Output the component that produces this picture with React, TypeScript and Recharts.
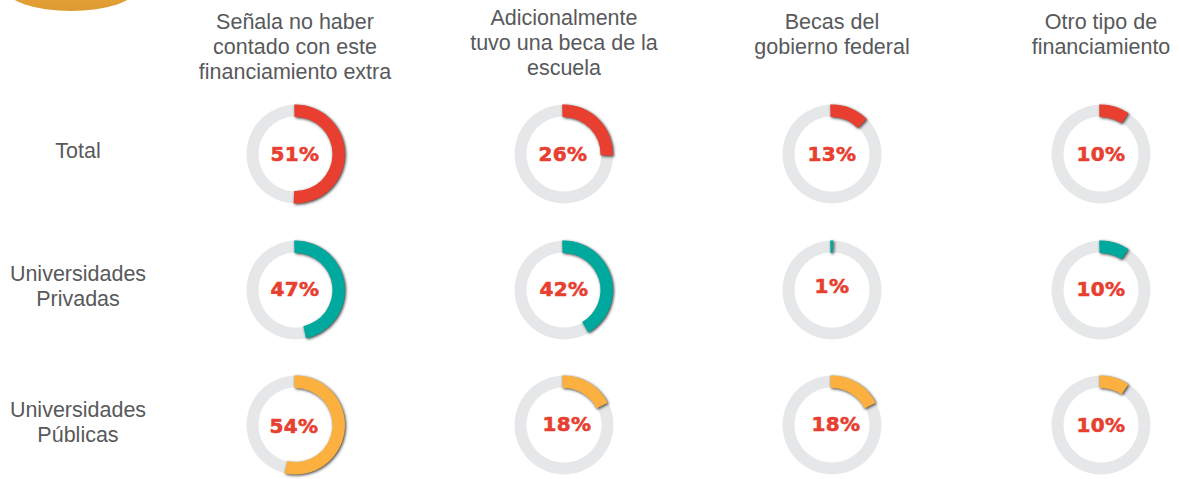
import React from "react";
import { PieChart, Pie, Cell, Text } from "recharts";

// percent values per row, one per column
const columns = [
  ["Señala no haber", "contado con este", "financiamiento extra"],
  ["Adicionalmente", "tuvo una beca de la", "escuela"],
  ["Becas del", "gobierno federal"],
  ["Otro tipo de", "financiamiento"],
];
const rowLabels = [["Total"], ["Universidades", "Privadas"], ["Universidades", "Públicas"]];
const totalValues = [51, 26, 13, 10];
const privateValues = [47, 42, 1, 10];
const publicValues = [54, 18, 18, 10];
const rowValues = [totalValues, privateValues, publicValues];
const rowColors = ["#e83f30", "#00a99d", "#fbb040"];

// layout
const colX = [296, 564, 832, 1101];
const rowY = [154, 290, 425];
const headerTop = [21.5, 17.5, 21.5, 21.5];
const rowLabelY = [150.5, 273.5, 409.5];
const labelNudge = [
  [[-1, 0], [-1, 0], [0, 0], [0, 0]],
  [[-1, -1], [0, -1], [0, -4], [0, -1]],
  [[-2, 1], [3, -1], [4, -1], [0, 0]],
];
const LINE = 25;
const START = 91.5;

const ringData = (v: number) => [
  { name: "valor", value: v },
  { name: "resto", value: 100 - v },
];

export default function App() {
  return (
    <div style={{ position: "fixed", left: 0, top: 0, width: 1179, height: 479, background: "#fff" }}>
      <PieChart width={1179} height={479} margin={{ top: 0, right: 0, bottom: 0, left: 0 }}>
        <defs>
          <linearGradient id="gold" x1="0" y1="0" x2="0" y2="1">
            <stop offset="0.4" stopColor="#f7c948" />
            <stop offset="0.6" stopColor="#e5a336" />
            <stop offset="1" stopColor="#de9a33" />
          </linearGradient>
        </defs>
        <ellipse cx={71} cy={-12} rx={66} ry={23} fill="url(#gold)" />

        {columns.map((lines, c) =>
          lines.map((line, i) => (
            <Text
              key={`h-${c}-${i}`}
              x={colX[c] - (c === 0 ? 1 : 0)}
              y={headerTop[c] + i * LINE}
              textAnchor="middle"
              verticalAnchor="middle"
              fontFamily="Liberation Sans"
              fontSize={21.5}
              fill="#58595b"
            >
              {line}
            </Text>
          ))
        )}

        {rowLabels.map((lines, r) =>
          lines.map((line, i) => (
            <Text
              key={`r-${r}-${i}`}
              x={78}
              y={rowLabelY[r] + i * LINE}
              textAnchor="middle"
              verticalAnchor="middle"
              fontFamily="Liberation Sans"
              fontSize={21.5}
              fill="#58595b"
            >
              {line}
            </Text>
          ))
        )}

        {rowValues.map((values, r) =>
          values.map((v, c) => (
            <Pie
              key={`bg-${r}-${c}`}
              data={[{ name: "fondo", value: 100 }]}
              dataKey="value"
              cx={colX[c]}
              cy={rowY[r]}
              innerRadius={37.5}
              outerRadius={49.5}
              startAngle={90}
              endAngle={-270}
              stroke="none"
              fill="#e6e7e8"
              isAnimationActive={false}
            />
          ))
        )}

        {rowValues.map((values, r) =>
          values.map((v, c) => (
            <Pie
              key={`arc-${r}-${c}`}
              data={ringData(v)}
              dataKey="value"
              cx={colX[c] - 0.5}
              cy={rowY[r]}
              innerRadius={37}
              outerRadius={49.5}
              startAngle={START}
              endAngle={START - 360}
              stroke="none"
              isAnimationActive={false}
            >
              <Cell
                fill={rowColors[r]}
                style={{ filter: "drop-shadow(1px 1px 1.5px rgba(0,0,0,0.75))" }}
              />
              <Cell fill="none" />
            </Pie>
          ))
        )}

        {rowValues.map((values, r) =>
          values.map((v, c) => (
            <Text
              key={`p-${r}-${c}`}
              x={colX[c] + labelNudge[r][c][0]}
              y={rowY[r] + labelNudge[r][c][1]}
              textAnchor="middle"
              verticalAnchor="middle"
              fontFamily="DejaVu Sans"
              fontWeight="bold"
              fontSize={20}
              letterSpacing={0.4}
              stroke="#e83f30"
              strokeWidth={0.6}
              fill="#e83f30"
            >
              {`${v}%`}
            </Text>
          ))
        )}
      </PieChart>
    </div>
  );
}
